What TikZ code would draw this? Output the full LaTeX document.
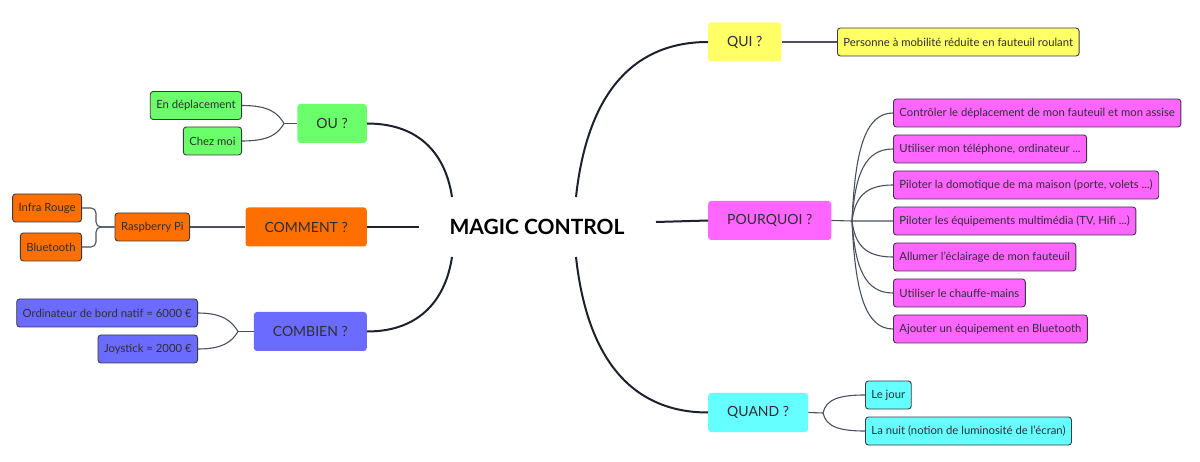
\documentclass[tikz,border=0pt]{standalone}
\usepackage{fontspec}
\setmainfont{Lato}
\usepackage{xcolor}
\usepackage{tikz}
\usetikzlibrary{positioning}
\definecolor{ougreen}{HTML}{6CFF6C}
\definecolor{comorange}{HTML}{FF6F00}
\definecolor{combblue}{HTML}{6B6BFF}
\definecolor{quiyellow}{HTML}{FFFF66}
\definecolor{pqpink}{HTML}{FF66FF}
\definecolor{quandcyan}{HTML}{66FFFF}
\definecolor{textgray}{HTML}{2E2E33}
\definecolor{boxline}{HTML}{3A3A42}
\definecolor{mainline}{HTML}{1C212B}
\definecolor{subline}{HTML}{4A5060}
\tikzset{
	topbox/.style={rounded corners=3pt, minimum height=39pt, inner xsep=19pt, font=\fontsize{14}{16}\selectfont, text=textgray, fill=#1},
	subbox/.style={draw=boxline, rounded corners=3pt, minimum height=28pt, inner xsep=6pt, line width=0.9pt, font=\fontsize{11.3}{13}\selectfont, text=textgray, fill=#1},
	mainarr/.style={draw=mainline, line width=2pt},
	subarr/.style={draw=subline, line width=1.1pt},
}

\begin{document}
\begin{tikzpicture}[x=1pt, y=-1pt]
	\path[fill=white, use as bounding box] (0,0) rectangle (1200,462);

	% centre
	\node[font=\bfseries\fontsize{21}{24}\selectfont] (magic) at (537,227) {MAGIC CONTROL};
	\coordinate (hub-ou) at (452,197);
	\coordinate (hub-com) at (419,227);
	\coordinate (hub-comb) at (452,257);
	\coordinate (hub-qui) at (576,197);
	\coordinate (hub-pq) at (656,222);
	\coordinate (hub-quand) at (576,257);

	% questions
	\node[topbox=ougreen, anchor=east] (ou) at (367,123.5) {OU ?};
	\node[topbox=comorange, anchor=east] (comment) at (367,227) {COMMENT ?};
	\node[topbox=combblue, anchor=east] (combien) at (367,331.5) {COMBIEN ?};
	\node[topbox=quiyellow, anchor=west] (qui) at (708,42) {QUI ?};
	\node[topbox=pqpink, anchor=west] (pourquoi) at (708,220.5) {POURQUOI ?};
	\node[topbox=quandcyan, anchor=west] (quand) at (708,412.5) {QUAND ?};

	\draw[mainarr] (ou.east) .. controls +(55,0) and +(-6,-40) .. (hub-ou);
	\draw[mainarr] (comment.east) -- (hub-com);
	\draw[mainarr] (combien.east) .. controls +(55,0) and +(-6,40) .. (hub-comb);
	\draw[mainarr] (hub-qui) .. controls +(12,-110) and +(-70,0) .. (qui.west);
	\draw[mainarr] (hub-pq) -- (pourquoi.west);
	\draw[mainarr] (hub-quand) .. controls +(12,110) and +(-70,0) .. (quand.west);

	% OU
	\node[subbox=ougreen, anchor=east] (deplacement) at (242,105.5) {En déplacement};
	\node[subbox=ougreen, anchor=east] (chezmoi) at (242,141) {Chez moi};
	\coordinate (j-ou) at (284,123.5);
	\draw[subarr] (deplacement.east) .. controls +(28,0) and +(-6,-10) .. (j-ou);
	\draw[subarr] (chezmoi.east) .. controls +(28,0) and +(-6,10) .. (j-ou);
	\draw[subarr] (j-ou) -- (ou.west);

	% COMMENT
	\node[subbox=comorange, anchor=east] (rpi) at (190,227) {Raspberry Pi};
	\node[subbox=comorange, anchor=east] (infra) at (82,208) {Infra Rouge};
	\node[subbox=comorange, anchor=east] (bt) at (82,247) {Bluetooth};
	\coordinate (j-rpi) at (96,227);
	\draw[subarr, rounded corners=5pt] (infra.east) -| (j-rpi) -- (rpi.west);
	\draw[subarr, rounded corners=5pt] (bt.east) -| (j-rpi) -- (rpi.west);
	\draw[subarr] (rpi.east) -- (comment.west);

	% COMBIEN
	\node[subbox=combblue, anchor=east] (ordi) at (198,313) {Ordinateur de bord natif = 6000 €};
	\node[subbox=combblue, anchor=east] (joystick) at (198,349) {Joystick = 2000 €};
	\coordinate (j-comb) at (238,331.5);
	\draw[subarr] (ordi.east) .. controls +(25,0) and +(-6,-10) .. (j-comb);
	\draw[subarr] (joystick.east) .. controls +(25,0) and +(-6,10) .. (j-comb);
	\draw[subarr] (j-comb) -- (combien.west);

	% QUI
	\node[subbox=quiyellow, anchor=west] (personne) at (837,42) {Personne à mobilité réduite en fauteuil roulant};
	\draw[subarr] (qui.east) -- (personne.west);

	% POURQUOI
	\node[subbox=pqpink, anchor=west] (pqa) at (893,113) {Contrôler le déplacement de mon fauteuil et mon assise};
	\node[subbox=pqpink, anchor=west] (pqb) at (893,149) {Utiliser mon téléphone, ordinateur ...};
	\node[subbox=pqpink, anchor=west] (pqc) at (893,185) {Piloter la domotique de ma maison (porte, volets ...)};
	\node[subbox=pqpink, anchor=west] (pqd) at (893,221) {Piloter les équipements multimédia (TV, Hifi ...)};
	\node[subbox=pqpink, anchor=west] (pqe) at (893,257) {Allumer l'éclairage de mon fauteuil};
	\node[subbox=pqpink, anchor=west] (pqf) at (893,293) {Utiliser le chauffe-mains};
	\node[subbox=pqpink, anchor=west] (pqg) at (893,329) {Ajouter un équipement en Bluetooth};
	\coordinate (j-pq) at (852,221);
	\draw[subarr] (pourquoi.east) -- (j-pq) -- (pqd.west);
	\foreach \n/\dy in {pqa/-108, pqb/-72, pqc/-36, pqe/36, pqf/72, pqg/108}
		\draw[subarr] (j-pq) .. controls +({3},{0.65*(\dy)}) and +(-28,0) .. (\n.west);

	% QUAND
	\node[subbox=quandcyan, anchor=west] (jour) at (865,395) {Le jour};
	\node[subbox=quandcyan, anchor=west] (nuit) at (865,431) {La nuit (notion de luminosité de l'écran)};
	\coordinate (j-quand) at (823,413);
	\draw[subarr] (quand.east) -- (j-quand);
	\draw[subarr] (j-quand) .. controls +(3,-14) and +(-25,0) .. (jour.west);
	\draw[subarr] (j-quand) .. controls +(3,14) and +(-25,0) .. (nuit.west);
\end{tikzpicture}
\end{document}
